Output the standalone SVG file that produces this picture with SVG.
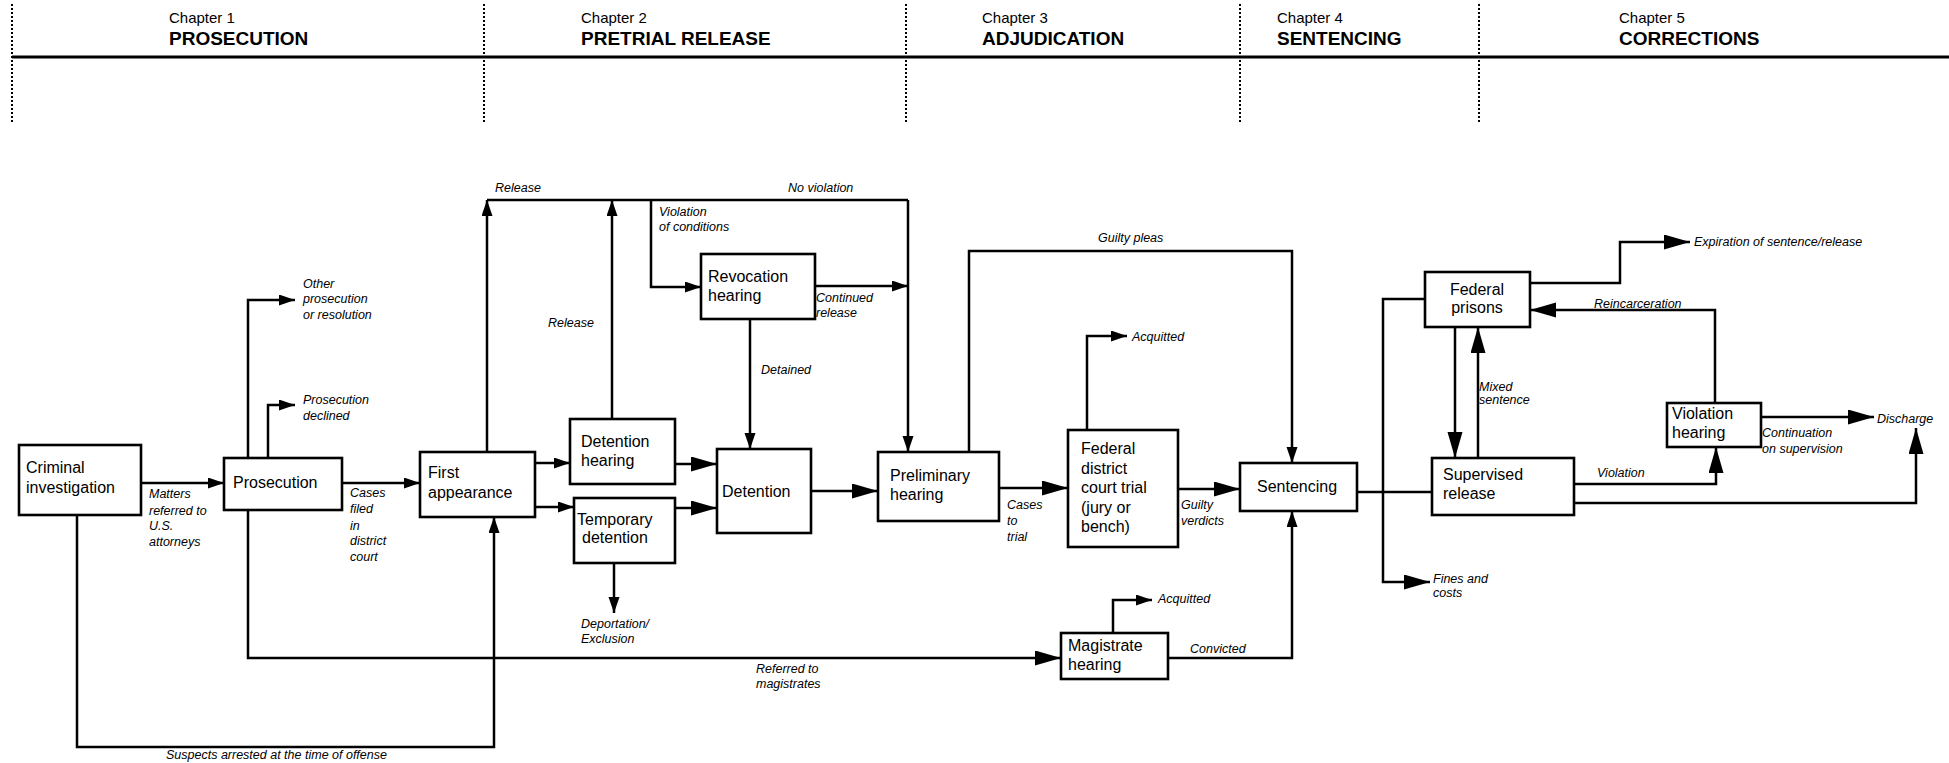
<svg xmlns="http://www.w3.org/2000/svg" width="1949" height="763" viewBox="0 0 1949 763">
<style>
text{font-family:"Liberation Sans",Arial,sans-serif;fill:#000}
.ch{font-size:15px}
.tt{font-size:19px;font-weight:bold}
.nt{font-size:16px}
.lb{font-size:12.5px;font-style:italic}
.box{fill:#fff;stroke:#000;stroke-width:2.6}
.c{fill:none;stroke:#000;stroke-width:2.5}
.dot{stroke:#000;stroke-width:2;stroke-dasharray:2 2}
</style>
<defs>
<marker id="sa" markerUnits="userSpaceOnUse" markerWidth="17" markerHeight="12" refX="16" refY="5.5" orient="auto"><path d="M0,0 L16,5.5 L0,11 Z" fill="#000"/></marker>
<marker id="la" markerUnits="userSpaceOnUse" markerWidth="27" markerHeight="16" refX="26" refY="7.5" orient="auto"><path d="M0,0 L26,7.5 L0,15 Z" fill="#000"/></marker>
</defs>
<rect width="1949" height="763" fill="#fff"/>
<g id="header">
<line class="dot" x1="12" y1="4" x2="12" y2="124"/>
<line class="dot" x1="484" y1="4" x2="484" y2="124"/>
<line class="dot" x1="906" y1="4" x2="906" y2="124"/>
<line class="dot" x1="1240" y1="4" x2="1240" y2="124"/>
<line class="dot" x1="1479" y1="4" x2="1479" y2="124"/>
<line x1="12" y1="57" x2="1949" y2="57" stroke="#000" stroke-width="3"/>
<text class="ch" x="169" y="23">Chapter 1</text><text class="tt" x="169" y="45">PROSECUTION</text>
<text class="ch" x="581" y="23">Chapter 2</text><text class="tt" x="581" y="45">PRETRIAL RELEASE</text>
<text class="ch" x="982" y="23">Chapter 3</text><text class="tt" x="982" y="45">ADJUDICATION</text>
<text class="ch" x="1277" y="23">Chapter 4</text><text class="tt" x="1277" y="45">SENTENCING</text>
<text class="ch" x="1619" y="23">Chapter 5</text><text class="tt" x="1619" y="45">CORRECTIONS</text>
</g>
<g id="connectors">
<path class="c" d="M141,483 H224" marker-end="url(#sa)"/>
<path class="c" d="M342,483 H420" marker-end="url(#sa)"/>
<path class="c" d="M248,458 V300 H295" marker-end="url(#sa)"/>
<path class="c" d="M268,458 V405 H295" marker-end="url(#sa)"/>
<path class="c" d="M487,452 V200" marker-end="url(#sa)"/>
<path class="c" d="M487,200 H908"/>
<path class="c" d="M908,200 V452" marker-end="url(#sa)"/>
<path class="c" d="M612,419 V200" marker-end="url(#sa)"/>
<path class="c" d="M651,200 V287 H701" marker-end="url(#sa)"/>
<path class="c" d="M815,286 H908" marker-end="url(#sa)"/>
<path class="c" d="M750,319 V449" marker-end="url(#sa)"/>
<path class="c" d="M535,463 H570" marker-end="url(#sa)"/>
<path class="c" d="M535,507 H574" marker-end="url(#sa)"/>
<path class="c" d="M675,464 H717" marker-end="url(#la)"/>
<path class="c" d="M675,508 H717" marker-end="url(#la)"/>
<path class="c" d="M811,491 H878" marker-end="url(#la)"/>
<path class="c" d="M614,563 V613" marker-end="url(#sa)"/>
<path class="c" d="M999,488 H1068" marker-end="url(#la)"/>
<path class="c" d="M969,452 V251 H1292 V463" marker-end="url(#sa)"/>
<path class="c" d="M1087,430 V336 H1127" marker-end="url(#sa)"/>
<path class="c" d="M1178,489 H1240" marker-end="url(#la)"/>
<path class="c" d="M77,515 V747 H494 V517" marker-end="url(#sa)"/>
<path class="c" d="M248,510 V658 H1061" marker-end="url(#la)"/>
<path class="c" d="M1113,633 V600 H1152" marker-end="url(#sa)"/>
<path class="c" d="M1168,658 H1292 V511" marker-end="url(#sa)"/>
<path class="c" d="M1357,492 H1432"/>
<path class="c" d="M1425,299 H1383 V582 H1430" marker-end="url(#la)"/>
<path class="c" d="M1455,327 V458" marker-end="url(#la)"/>
<path class="c" d="M1478,458 V327" marker-end="url(#la)"/>
<path class="c" d="M1530,283 H1620 V242 H1690" marker-end="url(#la)"/>
<path class="c" d="M1715,403 V310 H1530" marker-end="url(#la)"/>
<path class="c" d="M1574,484 H1716 V447" marker-end="url(#la)"/>
<path class="c" d="M1761,417 H1874" marker-end="url(#la)"/>
<path class="c" d="M1574,503 H1916 V428" marker-end="url(#la)"/>
</g>
<g id="labels">
<text class="lb" x="303" y="288">Other</text><text class="lb" x="303" y="303">prosecution</text><text class="lb" x="303" y="319">or resolution</text>
<text class="lb" x="303" y="404">Prosecution</text><text class="lb" x="303" y="420">declined</text>
<text class="lb" x="149" y="498">Matters</text><text class="lb" x="149" y="515">referred to</text><text class="lb" x="149" y="530">U.S.</text><text class="lb" x="149" y="546">attorneys</text>
<text class="lb" x="350" y="497">Cases</text><text class="lb" x="350" y="513">filed</text><text class="lb" x="350" y="530">in</text><text class="lb" x="350" y="545">district</text><text class="lb" x="350" y="561">court</text>
<text class="lb" x="166" y="759">Suspects arrested at the time of offense</text>
<text class="lb" x="495" y="192">Release</text>
<text class="lb" x="788" y="192">No violation</text>
<text class="lb" x="659" y="216">Violation</text><text class="lb" x="659" y="231">of conditions</text>
<text class="lb" x="548" y="327">Release</text>
<text class="lb" x="816" y="302">Continued</text><text class="lb" x="816" y="317">release</text>
<text class="lb" x="761" y="374">Detained</text>
<text class="lb" x="581" y="628">Deportation/</text><text class="lb" x="581" y="643">Exclusion</text>
<text class="lb" x="756" y="673">Referred to</text><text class="lb" x="756" y="688">magistrates</text>
<text class="lb" x="1007" y="509">Cases</text><text class="lb" x="1007" y="525">to</text><text class="lb" x="1007" y="541">trial</text>
<text class="lb" x="1098" y="242">Guilty pleas</text>
<text class="lb" x="1132" y="341">Acquitted</text>
<text class="lb" x="1181" y="509">Guilty</text><text class="lb" x="1181" y="525">verdicts</text>
<text class="lb" x="1158" y="603">Acquitted</text>
<text class="lb" x="1190" y="653">Convicted</text>
<text class="lb" x="1433" y="583">Fines and</text><text class="lb" x="1433" y="597">costs</text>
<text class="lb" x="1479" y="391">Mixed</text><text class="lb" x="1479" y="404">sentence</text>
<text class="lb" x="1694" y="246">Expiration of sentence/release</text>
<text class="lb" x="1594" y="308">Reincarceration</text>
<text class="lb" x="1597" y="477">Violation</text>
<text class="lb" x="1877" y="423">Discharge</text>
<text class="lb" x="1762" y="437">Continuation</text><text class="lb" x="1762" y="453">on supervision</text>
</g>
<g id="n-criminal"><rect class="box" x="19" y="445" width="122" height="70"/><text class="nt" x="26" y="473">Criminal</text><text class="nt" x="26" y="493">investigation</text></g>
<g id="n-prosecution"><rect class="box" x="224" y="458" width="118" height="52"/><text class="nt" x="233" y="488">Prosecution</text></g>
<g id="n-first"><rect class="box" x="420" y="452" width="115" height="65"/><text class="nt" x="428" y="478">First</text><text class="nt" x="428" y="498">appearance</text></g>
<g id="n-dethearing"><rect class="box" x="570" y="419" width="105" height="65"/><text class="nt" x="581" y="447">Detention</text><text class="nt" x="581" y="466">hearing</text></g>
<g id="n-tempdet"><rect class="box" x="574" y="498" width="101" height="65"/><text class="nt" x="577" y="525">Temporary</text><text class="nt" x="582" y="543">detention</text></g>
<g id="n-detention"><rect class="box" x="717" y="449" width="94" height="84"/><text class="nt" x="722" y="497">Detention</text></g>
<g id="n-revocation"><rect class="box" x="701" y="254" width="114" height="65"/><text class="nt" x="708" y="282">Revocation</text><text class="nt" x="708" y="301">hearing</text></g>
<g id="n-prelim"><rect class="box" x="878" y="452" width="121" height="69"/><text class="nt" x="890" y="481">Preliminary</text><text class="nt" x="890" y="500">hearing</text></g>
<g id="n-trial"><rect class="box" x="1068" y="430" width="110" height="117"/><text class="nt" x="1081" y="454">Federal</text><text class="nt" x="1081" y="474">district</text><text class="nt" x="1081" y="493">court trial</text><text class="nt" x="1081" y="513">(jury or</text><text class="nt" x="1081" y="532">bench)</text></g>
<g id="n-magistrate"><rect class="box" x="1061" y="633" width="107" height="46"/><text class="nt" x="1068" y="651">Magistrate</text><text class="nt" x="1068" y="670">hearing</text></g>
<g id="n-sentencing"><rect class="box" x="1240" y="463" width="117" height="48"/><text class="nt" x="1257" y="492">Sentencing</text></g>
<g id="n-prisons"><rect class="box" x="1425" y="272" width="105" height="55"/><text class="nt" x="1477" y="295" text-anchor="middle">Federal</text><text class="nt" x="1477" y="313" text-anchor="middle">prisons</text></g>
<g id="n-supervised"><rect class="box" x="1432" y="458" width="142" height="57"/><text class="nt" x="1443" y="480">Supervised</text><text class="nt" x="1443" y="499">release</text></g>
<g id="n-violation"><rect class="box" x="1667" y="403" width="94" height="44"/><text class="nt" x="1672" y="419">Violation</text><text class="nt" x="1672" y="438">hearing</text></g>
</svg>
